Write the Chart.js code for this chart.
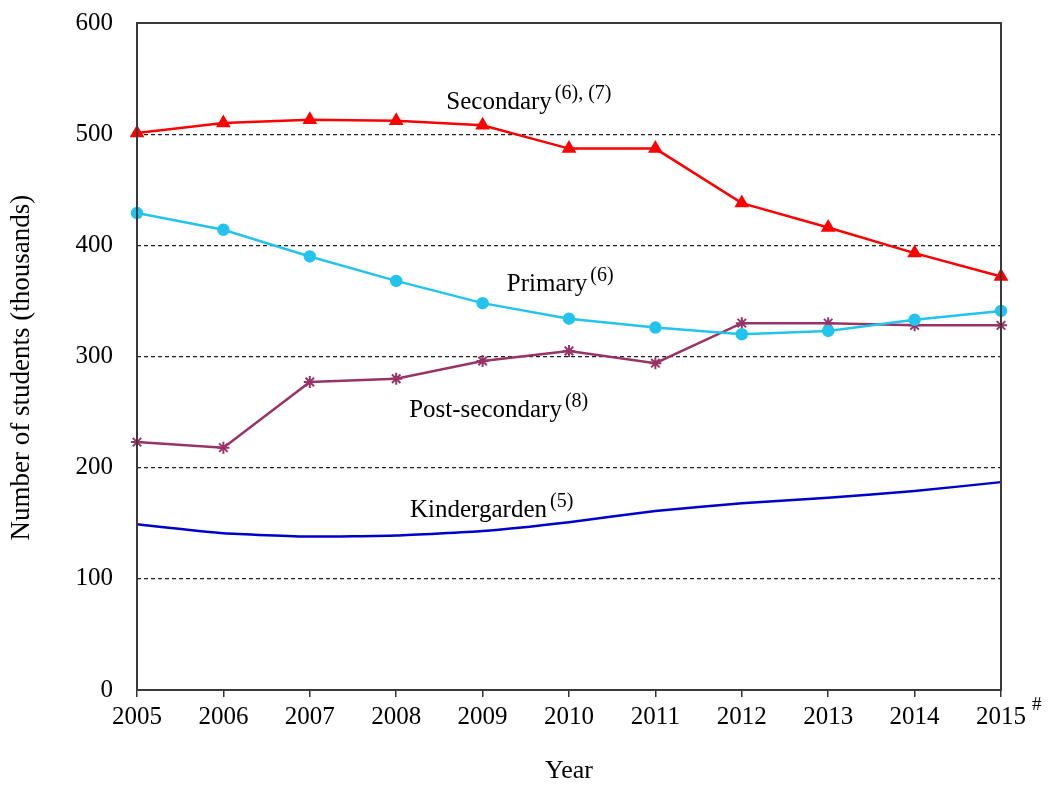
<!DOCTYPE html>
<html>
<head>
<meta charset="utf-8">
<script src="https://cdn.jsdelivr.net/npm/chart.js"></script>
<style>
  html, body { margin: 0; padding: 0; background: #fff; }
  #wrap { width: 1048px; height: 787px; }
</style>
</head>
<body>
<div id="wrap"><canvas id="chart" width="1048" height="787"></canvas></div>
<script>
// ---- data ----
const years = ["2005", "2006", "2007", "2008", "2009", "2010", "2011", "2012", "2013", "2014", "2015"];
const secondary = [501, 510, 513, 512, 508, 487, 487, 438, 416, 393, 372];
const primary = [429, 414, 390, 368, 348, 334, 326, 320, 323, 333, 341];
const postSecondary = [223, 218, 277, 280, 296, 305, 294, 330, 330, 328, 328];
const kindergarten = [149, 141, 138, 139, 143, 151, 161, 168, 173, 179, 187];

// ---- labels written on the plot: [text, superscript, x in year steps, y value of baseline] ----
const labelTexts = [
  ["Secondary", "(6), (7)", 3.58, 523],
  ["Primary", "(6)", 4.28, 359],
  ["Post-secondary", "(8)", 3.15, 246],
  ["Kindergarden", "(5)", 3.16, 156]
];
const yTitle = "Number of students (thousands)";

const serif = "'Liberation Serif', 'Times New Roman', serif";

// frame, y title, inline labels and the "#" after the last year
const decorations = {
  id: "decorations",
  afterDraw(chart) {
    const { ctx, chartArea: a, scales: { x, y } } = chart;
    ctx.save();
    ctx.strokeStyle = "#3a3a3a";
    ctx.lineWidth = 2;
    ctx.strokeRect(a.left, a.top, a.right - a.left, a.bottom - a.top);

    ctx.fillStyle = "#000";

    // y axis title, a bit below the middle like the original
    ctx.save();
    ctx.translate(22, y.getPixelForValue(290));
    ctx.rotate(-Math.PI / 2);
    ctx.font = "27px " + serif;
    ctx.textAlign = "center";
    ctx.textBaseline = "middle";
    ctx.fillText(yTitle, 0, 0);
    ctx.restore();

    ctx.textBaseline = "alphabetic";
    ctx.textAlign = "left";
    const step = x.getPixelForValue(1) - x.getPixelForValue(0);
    labelTexts.forEach(([main, sup, xi, v]) => {
      const px = x.getPixelForValue(0) + step * xi;
      const py = y.getPixelForValue(v);
      ctx.font = "25px " + serif;
      ctx.fillText(main, px, py);
      const w = ctx.measureText(main).width;
      ctx.font = "20px " + serif;
      ctx.fillText(sup, px + w + 3, py - 10);
    });

    ctx.font = "19px " + serif;
    ctx.fillText("#", x.getPixelForValue(years.length - 1) + 31, a.bottom + 20);
    ctx.restore();
  }
};

new Chart(document.getElementById("chart"), {
  type: "line",
  data: {
    labels: years,
    datasets: [
      {
        label: "Secondary",
        data: secondary,
        borderColor: "#ff0000",
        backgroundColor: "#ff0000",
        borderWidth: 2.5,
        pointStyle: "triangle",
        pointRadius: 6,
        tension: 0
      },
      {
        label: "Primary",
        data: primary,
        borderColor: "#22c4ee",
        backgroundColor: "#22c4ee",
        borderWidth: 2.5,
        pointStyle: "circle",
        pointRadius: 5,
        tension: 0
      },
      {
        label: "Post-secondary",
        data: postSecondary,
        borderColor: "#993366",
        backgroundColor: "#993366",
        borderWidth: 2.5,
        pointStyle: "star",
        pointRadius: 6,
        pointBorderWidth: 2,
        tension: 0
      },
      {
        label: "Kindergarden",
        data: kindergarten,
        borderColor: "#0000cc",
        backgroundColor: "#0000cc",
        borderWidth: 2.5,
        pointRadius: 0,
        tension: 0.15
      }
    ]
  },
  options: {
    responsive: false,
    animation: false,
    layout: { padding: { top: 0, right: 47, left: 0, bottom: 0 } },
    plugins: {
      legend: { display: false },
      tooltip: { enabled: false }
    },
    scales: {
      x: {
        offset: false,
        border: { display: false },
        grid: {
          drawOnChartArea: false,
          drawTicks: true,
          tickLength: 7,
          color: "#333",
          lineWidth: 1.5
        },
        ticks: {
          color: "#000",
          padding: 5,
          maxRotation: 0,
          font: { family: serif, size: 25 }
        },
        title: {
          display: true,
          text: "Year",
          color: "#000",
          padding: { top: 0, bottom: 0 },
          font: { family: serif, size: 26 }
        },
        afterFit(scale) { scale.height = 97; }
      },
      y: {
        min: 0,
        max: 600,
        border: { display: false, dash: [4, 3] },
        grid: {
          drawTicks: false,
          color: ctx => (ctx.tick && (ctx.tick.value === 0 || ctx.tick.value === 600)) ? "rgba(0,0,0,0)" : "#222",
          lineWidth: 1.2
        },
        ticks: {
          stepSize: 100,
          color: "#000",
          padding: 24,
          font: { family: serif, size: 25 }
        },
        afterFit(scale) {
          scale.width = 137;
          scale.paddingTop = 23;
          scale.paddingBottom = 0;
        }
      }
    }
  },
  plugins: [decorations]
});
</script>
</body>
</html>
